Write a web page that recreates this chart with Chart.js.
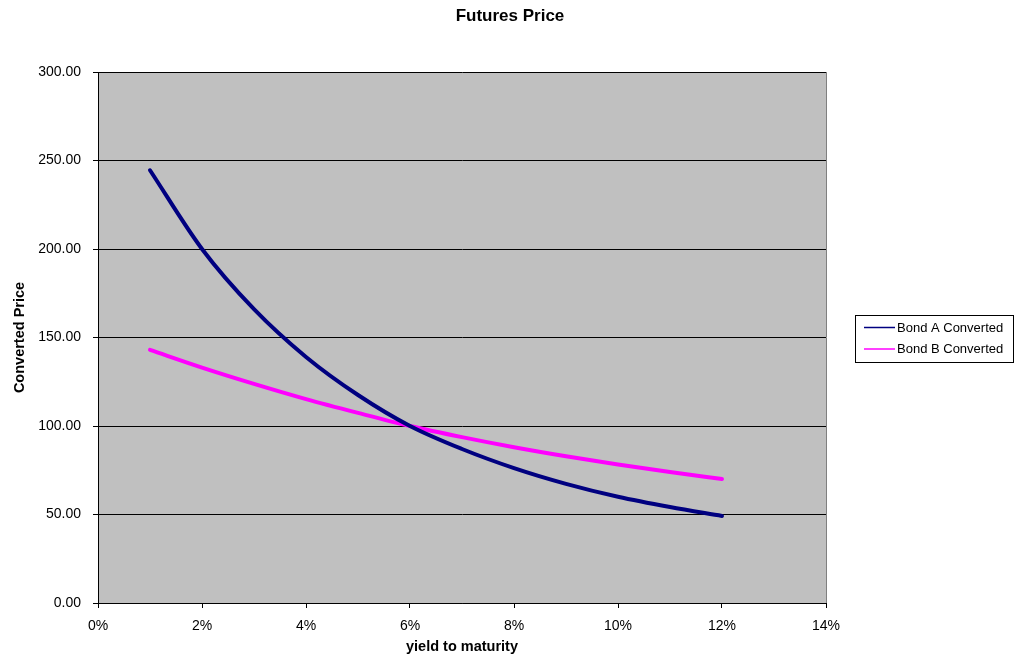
<!DOCTYPE html>
<html><head><meta charset="utf-8">
<script src="https://cdn.jsdelivr.net/npm/chart.js@4.4.1/dist/chart.umd.min.js"></script>
<style>html,body{margin:0;padding:0;background:#fff}#wrap{width:1020px;height:656px}</style>
</head><body><div id="wrap"><canvas id="c" width="1020" height="656"></canvas></div>
<script>
// ---- data ----
const yields = [0.01, 0.02, 0.03, 0.04, 0.05, 0.06, 0.07, 0.08, 0.09, 0.10, 0.11, 0.12];
const bondA = [244.5, 200, 166, 139, 117.5, 100, 87, 76.2, 67.3, 60, 54.2, 49.2];
const bondB = [143, 133, 123.8, 115.2, 107.4, 100, 93.7, 88, 82.9, 78.3, 74, 70];
const seriesNames = ['Bond A Converted', 'Bond B Converted'];
const seriesColors = ['#000080', '#FF00FF'];
const xTickValues = [0, 0.02, 0.04, 0.06, 0.08, 0.10, 0.12, 0.14];
const yTickValues = [0, 50, 100, 150, 200, 250, 300];
const chartTitle = 'Futures Price';
const xTitle = 'yield to maturity';
const yTitle = 'Converted Price';

const FONT = 'Arial, "Liberation Sans", sans-serif';

const toPts = (xs, ys) => xs.map((x, i) => ({ x: x, y: ys[i] }));

const plotDeco = {
  id: 'plotDeco',
  beforeDraw(chart) {
    const { ctx, chartArea: a } = chart;
    ctx.save();
    ctx.fillStyle = '#C0C0C0';
    ctx.fillRect(a.left, a.top, a.right - a.left, a.bottom - a.top);
    ctx.restore();
  },
  beforeDatasetsDraw(chart) {
    const { ctx, chartArea: a } = chart;
    ctx.save();
    ctx.strokeStyle = '#808080';
    ctx.lineWidth = 1;
    ctx.beginPath();
    ctx.moveTo(Math.round(a.right) + 0.5, a.top);
    ctx.lineTo(Math.round(a.right) + 0.5, a.bottom);
    ctx.stroke();
    ctx.restore();
  },
  afterDraw(chart) {
    const { ctx } = chart;
    const bx = 855.5, by = 315.5, bw = 158, bh = 47;
    ctx.save();
    ctx.fillStyle = '#FFFFFF';
    ctx.fillRect(bx, by, bw, bh);
    ctx.strokeStyle = '#000000';
    ctx.lineWidth = 1;
    ctx.strokeRect(bx, by, bw, bh);
    ctx.font = '13px ' + FONT;
    ctx.textBaseline = 'middle';
    ctx.textAlign = 'left';
    chart.data.datasets.forEach((ds, i) => {
      const yy = 327.5 + i * 21.5;
      ctx.strokeStyle = ds.borderColor;
      ctx.lineWidth = 1.5;
      ctx.beginPath();
      ctx.moveTo(864, yy);
      ctx.lineTo(895, yy);
      ctx.stroke();
      ctx.fillStyle = '#000000';
      ctx.fillText(ds.label, 897, yy + 0.5);
    });
    ctx.restore();
  }
};

new Chart(document.getElementById('c'), {
  type: 'line',
  data: {
    datasets: [
      { label: seriesNames[0], data: toPts(yields, bondA), borderColor: seriesColors[0], backgroundColor: seriesColors[0],
        borderWidth: 4, pointRadius: 0, cubicInterpolationMode: 'monotone', borderCapStyle: 'round', borderJoinStyle: 'round', fill: false },
      { label: seriesNames[1], data: toPts(yields, bondB), borderColor: seriesColors[1], backgroundColor: seriesColors[1],
        borderWidth: 4, pointRadius: 0, cubicInterpolationMode: 'monotone', borderCapStyle: 'round', borderJoinStyle: 'round', fill: false }
    ]
  },
  options: {
    responsive: false,
    animation: false,
    devicePixelRatio: 1,
    layout: { padding: 0 },
    plugins: {
      legend: { display: false },
      tooltip: { enabled: false },
      title: {
        display: true, text: chartTitle, color: '#000',
        font: { family: FONT, size: 17, weight: 'bold' },
        padding: { top: 6, bottom: 45.6 }
      }
    },
    scales: {
      x: {
        type: 'linear', min: 0, max: 0.14,
        afterBuildTicks(scale) { scale.ticks = xTickValues.map(v => ({ value: v })); },
        afterFit(scale) { scale.height = 53; },
        ticks: {
          color: '#000', padding: 9.6, maxRotation: 0, autoSkip: false,
          font: { family: FONT, size: 14 },
          callback: v => Math.round(v * 100) + '%'
        },
        grid: { drawOnChartArea: false, drawTicks: true, tickLength: 5, color: '#000' },
        border: { display: true, color: '#000', width: 1 },
        title: { display: true, text: xTitle, color: '#000', font: { family: FONT, size: 14.5, weight: 'bold' }, padding: { top: 0, bottom: 0 } }
      },
      y: {
        type: 'linear', min: 0, max: 300,
        afterBuildTicks(scale) { scale.ticks = yTickValues.map(v => ({ value: v })); },
        afterFit(scale) { scale.width = 98; },
        ticks: {
          color: '#000', padding: 12,
          font: { family: FONT, size: 14 },
          callback: v => Number(v).toFixed(2)
        },
        grid: { drawOnChartArea: true, drawTicks: true, tickLength: 5, color: '#000', lineWidth: 1 },
        border: { display: true, color: '#000', width: 1 },
        title: { display: true, text: yTitle, color: '#000', font: { family: FONT, size: 14.5, weight: 'bold' }, padding: { top: 11.3, bottom: 0 } }
      },
      legendSpace: {
        type: 'linear', position: 'right', display: true, min: 0, max: 1,
        afterFit(scale) { scale.width = 194; },
        ticks: { display: false },
        grid: { display: false, drawTicks: false },
        border: { display: false },
        title: { display: false }
      }
    }
  },
  plugins: [plotDeco]
});
</script>
</body></html>
